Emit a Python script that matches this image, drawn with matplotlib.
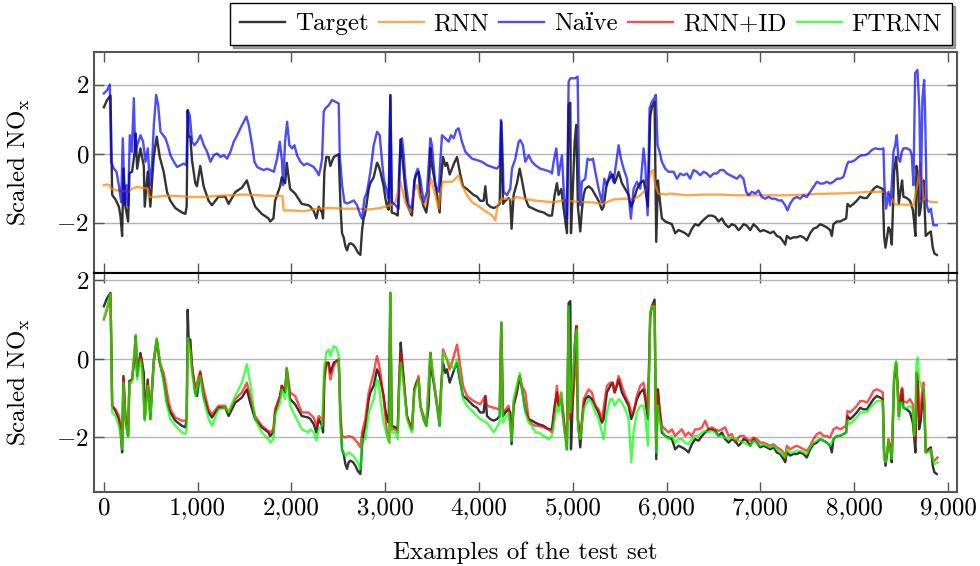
import matplotlib
matplotlib.use("Agg")
import matplotlib.pyplot as plt
from matplotlib.ticker import FuncFormatter, FixedLocator

plt.rcParams['font.family'] = ['cmr10', 'DejaVu Serif']
plt.rcParams['mathtext.fontset'] = 'cm'
plt.rcParams['axes.formatter.use_mathtext'] = True
plt.rcParams['font.size'] = 18

# ---- data ----
target_x = [0, 35, 71, 89, 124, 160, 177, 195, 209, 230, 259, 273, 301, 330, 340, 355, 390, 426, 436, 468,
            496, 532, 564, 596, 638, 674, 709, 762, 833, 869, 883, 894, 904, 922, 940, 975, 993, 1028, 1064,
            1117, 1152, 1223, 1294, 1330, 1401, 1472, 1525, 1560, 1613, 1684, 1755, 1773, 1808, 1826, 1879,
            1897, 1933, 1950, 1986, 2039, 2110, 2181, 2202, 2238, 2266, 2291, 2326, 2337, 2351, 2372, 2397,
            2415, 2451, 2479, 2504, 2522, 2539, 2557, 2575, 2593, 2610, 2628, 2657, 2682, 2706, 2735, 2753,
            2770, 2788, 2806, 2824, 2841, 2877, 2912, 2930, 2948, 2983, 3001, 3019, 3037, 3054, 3069, 3108,
            3133, 3147, 3165, 3179, 3197, 3214, 3232, 3268, 3285, 3310, 3332, 3356, 3374, 3410, 3438, 3463,
            3481, 3498, 3516, 3552, 3580, 3594, 3616, 3641, 3658, 3687, 3712, 3736, 3765, 3783, 3800, 3829,
            3871, 3907, 3942, 3978, 4013, 4049, 4067, 4085, 4120, 4156, 4191, 4220, 4237, 4255, 4280, 4315,
            4333, 4347, 4369, 4404, 4433, 4458, 4493, 4529, 4564, 4600, 4635, 4688, 4742, 4777, 4806, 4830,
            4848, 4877, 4891, 4912, 4937, 4955, 4973, 4980, 5001, 5019, 5036, 5054, 5079, 5097, 5115, 5132,
            5168, 5203, 5239, 5274, 5310, 5328, 5363, 5399, 5424, 5445, 5470, 5488, 5523, 5559, 5594, 5623,
            5647, 5683, 5718, 5754, 5772, 5800, 5825, 5843, 5871, 5889, 5907, 5921, 5949, 5985, 6020, 6056,
            6091, 6127, 6162, 6198, 6233, 6269, 6304, 6340, 6376, 6411, 6447, 6482, 6518, 6553, 6589, 6624,
            6660, 6695, 6731, 6766, 6784, 6820, 6855, 6891, 6926, 6962, 6997, 7033, 7068, 7104, 7139, 7175,
            7210, 7246, 7264, 7281, 7317, 7352, 7388, 7423, 7459, 7494, 7530, 7565, 7601, 7636, 7672, 7707,
            7743, 7761, 7778, 7814, 7850, 7885, 7914, 7928, 7956, 7992, 8027, 8063, 8098, 8134, 8169, 8205,
            8240, 8276, 8304, 8318, 8333, 8347, 8365, 8382, 8400, 8411, 8425, 8446, 8460, 8475, 8496, 8510,
            8524, 8560, 8595, 8624, 8638, 8652, 8663, 8677, 8691, 8706, 8723, 8738, 8748, 8762, 8791, 8816,
            8837, 8855, 8880]
target_y = [1.34, 1.55, 1.68, -1.20, -1.33, -1.54, -1.80, -2.39, -0.44, -1.54, -1.97, -0.57, -0.53, 0.07, 0.58,
            -0.44, 0.15, -0.36, -1.54, -0.53, -1.54, -0.10, 0.49, -0.10, -0.53, -1.12, -1.37, -1.58, -1.71,
            -1.75, -1.54, 1.25, 0.49, 0.49, -0.19, -0.86, -0.95, -0.36, -0.95, -1.37, -1.50, -1.25, -1.25,
            -1.46, -1.12, -0.99, -0.78, -1.12, -1.54, -1.75, -1.88, -1.97, -1.88, -1.37, -0.95, -0.69, -0.86,
            -0.27, -1.03, -1.16, -1.46, -1.50, -1.54, -1.67, -1.88, -1.54, -1.71, -1.88, -0.53, -0.10, -0.10,
            -0.36, -0.10, -0.06, -0.02, -1.46, -2.31, -2.43, -2.69, -2.81, -2.64, -2.60, -2.64, -2.73, -2.86,
            -2.94, -2.22, -1.88, -1.71, -1.37, -1.03, -0.86, -0.69, -0.27, -0.36, -0.53, -0.95, -1.29, -1.54,
            -1.63, 1.68, -1.71, -1.75, -1.80, -0.69, 0.41, -0.02, -0.53, -1.03, -1.46, -1.71, -1.80, -0.78,
            -0.61, -0.53, -1.20, -1.54, -1.71, -1.20, 0.15, -0.36, -0.61, -1.20, -1.71, -0.78, -0.10, -0.36,
            -0.27, -0.61, -0.44, -0.27, -0.10, -0.36, -0.61, -0.95, -1.03, -1.12, -1.20, -1.25, -1.37, -1.37,
            -0.95, -1.46, -1.54, -1.58, -1.54, -1.46, 0.92, -1.46, -1.37, -1.29, -1.37, -2.18, -1.20, -0.86,
            -0.44, -0.78, -1.30, -1.54, -1.58, -1.63, -1.67, -1.71, -1.80, -1.80, -1.20, -0.86, -1.20, -1.03,
            -1.37, -1.80, -2.31, 1.42, 1.47, -2.31, -0.95, 0.32, 0.83, -1.54, -2.26, -1.63, -1.20, -1.03,
            -0.95, -1.03, -1.20, -1.37, -1.63, -1.54, -0.86, -0.69, -0.61, -0.86, -0.69, -0.53, -0.86, -1.03,
            -1.20, -1.54, -1.37, -1.03, -0.86, -0.78, -1.03, -1.54, 1.08, 1.34, 1.51, -2.56, -0.78, -1.20,
            -1.88, -1.97, -2.01, -2.05, -2.31, -2.22, -2.26, -2.31, -2.39, -2.18, -2.05, -2.09, -1.97, -1.88,
            -1.80, -1.80, -1.84, -1.97, -1.88, -2.05, -2.14, -2.05, -2.09, -2.22, -2.18, -2.05, -2.09, -2.22,
            -2.05, -2.14, -2.26, -2.22, -2.26, -2.31, -2.26, -2.39, -2.43, -2.56, -2.64, -2.39, -2.47, -2.43,
            -2.43, -2.39, -2.43, -2.52, -2.31, -2.18, -2.14, -2.05, -2.09, -2.14, -2.22, -2.39, -2.05, -1.97,
            -1.97, -1.92, -1.88, -1.46, -1.54, -1.46, -1.37, -1.25, -1.29, -1.29, -1.16, -1.03, -0.95, -0.99,
            -1.03, -2.39, -2.73, -2.47, -2.14, -2.22, -2.64, -1.71, -0.53, -0.10, -0.61, -1.46, -1.03, -0.78,
            -1.25, -1.29, -1.37, -1.63, -1.97, -2.39, -0.36, -0.53, -1.80, -1.63, -1.20, -0.78, -1.37, -2.39,
            -2.31, -2.26, -2.73, -2.90, -2.94]

rnn_x = [0, 36, 64, 78, 142, 213, 266, 302, 355, 426, 469, 480, 533, 639, 781, 924, 1066, 1208, 1350, 1492,
         1634, 1776, 1904, 1918, 1989, 2131, 2273, 2415, 2557, 2700, 2842, 2948, 3055, 3108, 3161, 3214, 3268,
         3303, 3339, 3374, 3428, 3463, 3488, 3516, 3570, 3587, 3616, 3658, 3712, 3747, 3783, 3818, 3872, 3925,
         3978, 4031, 4085, 4138, 4173, 4198, 4244, 4298, 4351, 4404, 4475, 4582, 4688, 4795, 4902, 5008, 5115,
         5221, 5292, 5363, 5434, 5541, 5648, 5719, 5790, 5832, 5853, 5878, 5914, 6003, 6038, 6216, 6393, 6571,
         6748, 6926, 7104, 7281, 7459, 7636, 7814, 7992, 8169, 8311, 8382, 8436, 8525, 8631, 8684, 8702, 8720,
         8738, 8773, 8826, 8880]
rnn_y = [-0.92, -0.90, -0.92, -1.02, -1.07, -1.09, -1.11, -1.02, -0.97, -1.00, -1.02, -1.26, -1.26, -1.23,
         -1.23, -1.26, -1.26, -1.23, -1.21, -1.19, -1.21, -1.23, -1.23, -1.65, -1.65, -1.67, -1.60, -1.58,
         -1.60, -1.60, -1.62, -1.58, -1.50, -1.41, -0.82, -1.41, -1.70, -1.11, -0.92, -1.31, -1.50, -1.02,
         -0.73, -1.02, -1.60, -1.11, -0.82, -0.82, -0.82, -0.73, -0.63, -0.92, -1.21, -1.41, -1.50, -1.60,
         -1.70, -1.79, -1.94, -1.50, -1.31, -1.31, -1.33, -1.26, -1.31, -1.36, -1.39, -1.41, -1.36, -1.39,
         -1.41, -1.42, -1.45, -1.41, -1.33, -1.31, -1.33, -1.21, -1.02, -0.53, -0.48, -0.92, -1.16, -1.19,
         -1.16, -1.21, -1.19, -1.19, -1.21, -1.21, -1.21, -1.21, -1.19, -1.17, -1.16, -1.14, -1.11, -1.11,
         -1.21, -1.48, -1.48, -1.50, -0.73, -0.29, -0.73, -1.31, -1.36, -1.41, -1.41]

naive_x = [0, 36, 64, 78, 107, 135, 160, 185, 202, 224, 242, 259, 277, 298, 320, 334, 355, 391, 419, 444, 469,
           490, 515, 533, 558, 579, 604, 632, 657, 682, 710, 746, 781, 817, 852, 881, 895, 916, 941, 966, 995,
           1030, 1066, 1101, 1137, 1172, 1208, 1243, 1279, 1314, 1350, 1385, 1421, 1456, 1492, 1520, 1545, 1581,
           1606, 1634, 1669, 1705, 1741, 1776, 1812, 1847, 1876, 1900, 1911, 1932, 1954, 1978, 2007, 2032, 2060,
           2096, 2131, 2167, 2202, 2238, 2273, 2291, 2309, 2327, 2344, 2362, 2398, 2433, 2469, 2504, 2515, 2540,
           2565, 2593, 2628, 2664, 2700, 2735, 2753, 2778, 2806, 2842, 2877, 2913, 2941, 2966, 2984, 3019, 3037,
           3055, 3072, 3108, 3143, 3161, 3179, 3197, 3214, 3250, 3285, 3321, 3346, 3374, 3410, 3445, 3481, 3498,
           3534, 3570, 3587, 3605, 3641, 3676, 3701, 3729, 3758, 3783, 3818, 3854, 3889, 3925, 3978, 4031, 4085,
           4138, 4191, 4220, 4234, 4248, 4262, 4298, 4333, 4351, 4387, 4422, 4440, 4468, 4493, 4529, 4564, 4600,
           4653, 4706, 4760, 4777, 4795, 4823, 4848, 4884, 4902, 4919, 4937, 4955, 4973, 5026, 5051, 5065, 5079,
           5097, 5132, 5157, 5186, 5214, 5239, 5275, 5310, 5335, 5363, 5399, 5434, 5463, 5488, 5513, 5541, 5577,
           5619, 5648, 5683, 5719, 5754, 5772, 5797, 5818, 5843, 5868, 5885, 5903, 5925, 5949, 5985, 6020, 6074,
           6109, 6145, 6180, 6216, 6251, 6287, 6322, 6358, 6393, 6429, 6464, 6500, 6535, 6571, 6606, 6642, 6677,
           6713, 6748, 6784, 6819, 6848, 6873, 6908, 6944, 6979, 7015, 7050, 7086, 7121, 7157, 7192, 7228, 7263,
           7288, 7317, 7352, 7388, 7423, 7459, 7494, 7530, 7565, 7601, 7636, 7672, 7707, 7743, 7778, 7814, 7850,
           7885, 7921, 7938, 7974, 8009, 8045, 8080, 8116, 8151, 8187, 8222, 8258, 8294, 8311, 8322, 8340, 8365,
           8382, 8400, 8418, 8436, 8453, 8471, 8489, 8507, 8525, 8560, 8596, 8613, 8631, 8649, 8674, 8695, 8709,
           8727, 8745, 8755, 8773, 8794, 8816, 8844, 8880]
naive_y = [1.74, 1.84, 2.00, -0.24, -0.44, -0.53, -0.92, -1.41, 0.44, -1.50, -0.92, -1.50, 0.53, 0.05, 1.60,
           0.05, 0.24, 0.53, 0.34, -0.24, 0.15, -0.92, -0.24, 0.82, 1.70, 1.41, 0.63, 0.53, 0.44, 0.24, -0.05,
           -0.24, -0.39, -0.34, -0.29, -0.34, 1.26, 1.11, 0.34, 0.24, 0.34, 0.53, 0.24, 0.05, -0.24, -0.05, 0.00,
           -0.10, -0.05, -0.15, 0.05, 0.34, 0.53, 0.73, 0.92, 1.07, 0.82, 0.24, -0.24, -0.39, -0.44, -0.48,
           -0.44, -0.48, -0.53, -0.15, 0.34, -0.24, -0.92, 0.34, 0.92, 0.24, 0.15, 0.24, -0.05, -0.24, -0.34,
           -0.29, -0.34, -0.39, -0.53, -0.63, -0.44, -0.15, 1.21, 1.31, 1.40, 1.55, 1.50, 1.45, -0.05, -0.92,
           -1.41, -1.45, -1.41, -1.36, -1.50, -1.79, -1.89, -1.31, -1.11, -0.53, 0.24, 0.63, 0.53, -0.24, -0.73,
           -1.11, -1.31, 1.70, -1.41, -1.50, -1.60, 0.24, 0.44, -0.05, -0.73, -1.50, -1.60, -0.63, -0.44, -0.73,
           -1.41, -1.11, 0.44, 0.24, -0.92, -1.11, -0.24, 0.53, 0.44, 0.34, 0.53, 0.44, 0.68, 0.73, 0.34, 0.05,
           -0.05, -0.15, -0.19, -0.24, -0.34, -0.39, -0.44, -0.34, 0.97, 0.24, -1.11, -1.21, -1.02, -0.44, -0.15,
           0.34, 0.39, 0.24, -0.24, -0.05, -0.24, -0.34, -0.44, -0.48, -0.53, -0.58, -0.24, 0.15, -0.63, -0.05,
           -1.02, -1.50, -1.89, 2.08, 2.18, 2.18, 2.23, -0.53, -1.50, -0.82, -0.73, -0.15, -0.19, -0.15, -0.53,
           -1.02, -1.41, -0.73, -0.92, -0.53, -0.82, -0.24, 0.24, -0.15, -0.44, -0.73, -1.89, -1.02, -0.82,
           -1.02, 0.15, -0.34, -1.79, 1.31, 1.50, 1.60, 1.70, 0.24, 0.05, -0.24, -0.44, -0.53, -0.53, -0.73,
           -0.58, -0.63, -0.58, -0.73, -0.48, -0.53, -0.63, -0.53, -0.58, -0.68, -0.58, -0.58, -0.48, -0.48,
           -0.58, -0.63, -0.68, -0.73, -0.63, -0.73, -1.11, -1.21, -1.11, -1.16, -1.07, -1.26, -1.31, -1.26,
           -1.31, -1.31, -1.36, -1.36, -1.50, -1.65, -1.45, -1.31, -1.26, -1.31, -1.21, -1.26, -1.11, -0.97,
           -0.82, -0.87, -0.87, -0.82, -0.87, -0.82, -0.73, -0.73, -0.68, -0.34, -0.24, -0.24, -0.19, -0.10,
           -0.05, -0.05, 0.00, 0.10, 0.15, 0.13, 0.13, 0.15, -0.92, -1.60, -1.11, -1.50, -0.92, 0.05, 0.24, 0.53,
           -0.15, -0.24, 0.05, 0.15, 0.15, 0.10, -0.05, -0.92, 2.33, 2.42, 1.21, -1.31, 1.60, 2.13, 1.21, -1.50,
           -1.70, -1.60, -2.08, -2.08]

rnnid_x = [0, 35, 71, 89, 124, 160, 177, 195, 209, 230, 259, 273, 301, 340, 355, 390, 408, 436, 468, 496, 532,
           564, 596, 638, 674, 709, 762, 833, 869, 883, 894, 922, 940, 975, 1028, 1064, 1117, 1152, 1223, 1294,
           1330, 1401, 1472, 1525, 1560, 1613, 1684, 1755, 1773, 1808, 1826, 1879, 1897, 1933, 1950, 1986, 2039,
           2110, 2181, 2202, 2238, 2266, 2291, 2326, 2337, 2351, 2372, 2397, 2415, 2451, 2479, 2504, 2522, 2539,
           2575, 2610, 2657, 2706, 2735, 2753, 2788, 2824, 2877, 2912, 2930, 2948, 2983, 3019, 3044, 3054, 3069,
           3108, 3133, 3147, 3165, 3197, 3232, 3268, 3285, 3310, 3356, 3374, 3410, 3438, 3481, 3516, 3552, 3580,
           3616, 3658, 3687, 3712, 3765, 3800, 3829, 3871, 3942, 4013, 4067, 4085, 4156, 4220, 4237, 4255, 4315,
           4347, 4369, 4433, 4458, 4493, 4529, 4564, 4600, 4635, 4688, 4742, 4777, 4806, 4830, 4848, 4877, 4891,
           4912, 4937, 4955, 4973, 5001, 5026, 5044, 5054, 5079, 5115, 5168, 5203, 5239, 5274, 5310, 5363, 5399,
           5424, 5445, 5488, 5523, 5559, 5594, 5623, 5647, 5683, 5718, 5754, 5772, 5800, 5825, 5843, 5871, 5889,
           5907, 5921, 5949, 5985, 6020, 6056, 6091, 6127, 6162, 6198, 6233, 6269, 6304, 6340, 6376, 6411, 6447,
           6482, 6518, 6553, 6589, 6624, 6660, 6695, 6731, 6766, 6784, 6820, 6855, 6891, 6926, 6962, 6997, 7033,
           7068, 7104, 7139, 7175, 7210, 7246, 7264, 7281, 7317, 7352, 7388, 7423, 7459, 7494, 7530, 7565, 7601,
           7636, 7672, 7707, 7743, 7778, 7814, 7850, 7885, 7914, 7928, 7956, 7992, 8027, 8063, 8098, 8134, 8169,
           8205, 8240, 8276, 8304, 8318, 8333, 8347, 8365, 8382, 8400, 8411, 8425, 8446, 8460, 8475, 8496, 8510,
           8524, 8560, 8595, 8624, 8638, 8652, 8663, 8677, 8691, 8706, 8723, 8738, 8748, 8762, 8791, 8816, 8837,
           8855, 8887]
rnnid_y = [1.00, 1.25, 1.66, -1.20, -1.29, -1.46, -1.71, -2.22, -0.48, -1.46, -1.88, -0.57, -0.53, 0.58, -0.36,
           0.07, -0.10, -1.54, -0.61, -1.37, -0.02, 0.49, -0.10, -0.36, -0.86, -1.29, -1.50, -1.58, -1.58,
           -1.54, 0.49, 0.32, -0.19, -0.78, -0.31, -0.78, -1.29, -1.42, -1.20, -1.20, -1.37, -1.03, -0.86,
           -0.61, -0.95, -1.46, -1.71, -1.84, -1.88, -1.80, -1.29, -0.95, -0.69, -0.78, -0.23, -0.86, -0.95,
           -1.37, -1.37, -1.42, -1.50, -1.71, -1.46, -1.54, -1.71, -0.36, -0.10, -0.19, -0.53, -0.19, -0.06,
           -0.02, -1.37, -1.97, -2.01, -1.97, -2.01, -2.14, -2.26, -1.88, -1.54, -0.86, -0.36, 0.07, -0.10,
           -0.36, -1.03, -1.88, -2.14, 1.68, -1.80, -1.80, -1.88, -0.69, 0.15, -0.53, -1.46, -1.71, -1.80, -0.78,
           -0.44, -1.20, -1.46, -1.63, 0.15, -0.53, -1.12, -1.63, 0.24, -0.02, -0.27, -0.10, 0.36, -0.19, -0.69,
           -0.95, -1.08, -1.16, -0.95, -1.20, -1.25, -1.29, 0.92, -1.37, -1.20, -1.97, -1.12, -0.44, -0.69,
           -0.86, -1.54, -1.67, -1.71, -1.71, -1.75, -1.80, -1.88, -1.37, -0.69, -1.12, -0.86, -1.20, -1.71,
           -2.22, 1.08, -1.54, -1.03, -0.27, 0.83, -1.54, -2.05, -1.03, -0.78, -0.86, -1.20, -1.29, -1.54, -0.69,
           -0.61, -0.61, -0.86, -0.44, -0.69, -0.95, -1.12, -1.37, -1.37, -0.95, -0.69, -0.61, -0.86, -1.37,
           1.17, 1.34, 1.42, -2.22, -0.86, -1.20, -1.71, -1.80, -1.88, -1.80, -1.97, -1.88, -1.80, -1.97, -1.88,
           -1.97, -1.80, -1.80, -1.75, -1.58, -1.80, -1.75, -1.80, -1.84, -1.80, -1.75, -1.97, -1.92, -2.14,
           -2.01, -1.97, -1.97, -2.05, -2.09, -2.01, -2.05, -2.14, -2.14, -2.18, -2.22, -2.18, -2.26, -2.31,
           -2.39, -2.56, -2.22, -2.31, -2.26, -2.22, -2.26, -2.31, -2.35, -2.22, -2.05, -1.92, -1.88, -1.97,
           -1.97, -2.01, -1.80, -1.75, -1.80, -1.75, -1.71, -1.33, -1.37, -1.29, -1.20, -1.08, -1.08, -1.12,
           -0.99, -0.82, -0.78, -0.82, -0.86, -2.39, -2.64, -2.47, -2.05, -2.22, -2.47, -1.63, -0.53, -0.14,
           -0.61, -1.37, -0.86, -0.74, -1.08, -1.12, -1.03, -1.16, -1.88, -2.05, -0.36, -0.44, -1.54, -1.37,
           -0.86, -0.61, -1.20, -2.31, -2.35, -2.31, -2.56, -2.60, -2.52]

ftrnn_x = [0, 35, 71, 89, 124, 160, 177, 195, 209, 230, 259, 273, 301, 340, 355, 390, 408, 436, 468, 496, 532,
           564, 596, 638, 674, 709, 762, 833, 869, 883, 894, 922, 940, 975, 1028, 1064, 1117, 1152, 1223, 1294,
           1330, 1401, 1472, 1525, 1560, 1613, 1684, 1755, 1773, 1808, 1826, 1879, 1897, 1933, 1950, 1986, 2039,
           2110, 2181, 2202, 2238, 2266, 2291, 2326, 2351, 2372, 2397, 2415, 2451, 2479, 2504, 2522, 2539, 2575,
           2610, 2657, 2706, 2735, 2753, 2788, 2824, 2877, 2912, 2930, 2948, 2983, 3019, 3044, 3054, 3069, 3108,
           3133, 3147, 3165, 3197, 3232, 3268, 3285, 3310, 3356, 3374, 3410, 3438, 3481, 3516, 3552, 3580, 3616,
           3658, 3687, 3712, 3736, 3765, 3800, 3829, 3871, 3942, 4013, 4085, 4156, 4220, 4237, 4255, 4315, 4347,
           4369, 4433, 4458, 4493, 4529, 4564, 4600, 4635, 4688, 4742, 4777, 4806, 4830, 4848, 4877, 4891, 4912,
           4937, 4955, 4973, 5001, 5026, 5044, 5054, 5079, 5115, 5168, 5203, 5239, 5274, 5310, 5328, 5363, 5399,
           5424, 5445, 5488, 5523, 5559, 5594, 5623, 5647, 5683, 5718, 5754, 5772, 5800, 5825, 5843, 5871, 5889,
           5907, 5921, 5949, 5985, 6020, 6056, 6091, 6127, 6162, 6198, 6233, 6269, 6304, 6340, 6376, 6411, 6447,
           6482, 6518, 6553, 6589, 6624, 6660, 6695, 6731, 6766, 6784, 6820, 6855, 6891, 6926, 6962, 6997, 7033,
           7068, 7104, 7139, 7175, 7210, 7246, 7264, 7281, 7317, 7352, 7388, 7423, 7459, 7494, 7530, 7565, 7601,
           7636, 7672, 7707, 7743, 7778, 7814, 7850, 7885, 7914, 7928, 7956, 7992, 8027, 8063, 8098, 8134, 8169,
           8205, 8240, 8276, 8304, 8318, 8333, 8347, 8365, 8382, 8400, 8411, 8425, 8446, 8460, 8475, 8496, 8510,
           8524, 8560, 8595, 8624, 8638, 8652, 8663, 8677, 8691, 8706, 8723, 8738, 8748, 8762, 8791, 8816, 8837,
           8855, 8887]
ftrnn_y = [1.04, 1.34, 1.66, -1.37, -1.46, -1.71, -1.88, -2.31, -0.61, -1.63, -2.01, -0.61, -0.61, 0.62, -0.53,
           -0.02, -0.27, -1.58, -0.69, -1.54, -0.10, 0.53, -0.02, -0.61, -1.20, -1.54, -1.71, -1.88, -1.92,
           -1.80, 0.53, 0.15, -0.36, -0.95, -0.44, -1.03, -1.54, -1.71, -1.29, -1.25, -1.37, -0.95, -0.61,
           -0.14, -0.61, -1.54, -1.88, -2.05, -2.14, -2.05, -1.46, -1.12, -0.78, -1.03, -0.27, -1.20, -1.46,
           -1.80, -1.88, -1.80, -1.88, -2.09, -1.80, -1.71, -0.19, 0.15, 0.24, 0.07, 0.32, 0.28, 0.07, -1.71,
           -2.31, -2.47, -2.39, -2.47, -2.64, -2.81, -2.05, -2.05, -1.37, -1.03, -0.53, -0.61, -1.03, -1.63,
           -1.97, -2.14, 1.68, -1.88, -1.88, -2.05, -0.86, -0.10, -0.69, -1.54, -1.80, -1.88, -0.86, -0.53,
           -1.20, -1.54, -1.71, 0.15, -0.53, -1.20, -1.71, 0.15, -0.02, -0.10, -0.19, -0.27, -0.02, -0.53, -1.03,
           -1.20, -1.37, -1.54, -1.63, -1.88, -1.63, 0.92, -1.63, -1.37, -2.09, -1.03, -0.36, -0.78, -1.37,
           -1.63, -1.71, -1.88, -1.88, -1.97, -2.05, -1.97, -1.54, -1.20, -1.37, -0.86, -1.46, -1.88, -2.31,
           1.34, -1.37, -0.36, 0.49, 0.75, -1.80, -2.05, -1.29, -1.03, -1.12, -1.37, -1.54, -1.88, -2.05, -1.37,
           -1.03, -1.03, -1.20, -1.03, -1.12, -1.29, -1.54, -2.64, -1.88, -1.37, -1.20, -1.20, -1.46, -2.22,
           1.17, 1.34, 1.34, -2.39, -1.20, -1.54, -1.80, -1.97, -2.05, -1.97, -2.14, -2.05, -2.05, -2.14, -2.18,
           -2.05, -1.97, -1.97, -1.88, -1.84, -1.88, -1.84, -1.88, -1.97, -1.97, -2.01, -2.05, -2.01, -2.05,
           -2.09, -2.09, -2.14, -2.18, -2.22, -2.09, -2.14, -2.22, -2.18, -2.22, -2.26, -2.22, -2.31, -2.39,
           -2.47, -2.52, -2.31, -2.39, -2.39, -2.35, -2.35, -2.39, -2.43, -2.26, -2.14, -2.09, -2.05, -2.09,
           -2.14, -2.22, -2.05, -1.97, -1.97, -1.92, -1.88, -1.58, -1.67, -1.58, -1.50, -1.37, -1.37, -1.37,
           -1.25, -1.16, -1.08, -1.08, -1.08, -2.56, -2.64, -2.43, -2.14, -2.31, -2.56, -1.46, -0.36, -0.06,
           -0.69, -1.54, -1.12, -1.12, -1.25, -1.25, -1.20, -1.29, -1.97, -1.63, -0.10, 0.03, -0.53, -0.61,
           -0.78, -0.78, -1.03, -2.39, -2.39, -2.31, -2.56, -2.69, -2.64]

x_ticks = [0, 1000, 2000, 3000, 4000, 5000, 6000, 7000, 8000, 9000]
y_ticks = [-2, 0, 2]

# ---- figure ----
fig = plt.figure(figsize=(9.8, 5.66), dpi=100)
ax1 = fig.add_axes([0.0959, 0.5185, 0.8806, 0.3895])
ax2 = fig.add_axes([0.0959, 0.1307, 0.8806, 0.3878])

lw = 1.7
l_t, = ax1.plot(target_x, target_y, color='black', alpha=0.8, lw=lw, label='Target')
l_r, = ax1.plot(rnn_x, rnn_y, color=(1.0, 0.5, 0.0), alpha=0.7, lw=lw, label='RNN')
l_n, = ax1.plot(naive_x, naive_y, color='blue', alpha=0.7, lw=lw, label='Naïve')

ax2.plot(target_x, target_y, color='black', alpha=0.8, lw=lw)
l_i, = ax2.plot(rnnid_x, rnnid_y, color='red', alpha=0.7, lw=lw, label='RNN+ID')
l_f, = ax2.plot(ftrnn_x, ftrnn_y, color=(0.0, 1.0, 0.0), alpha=0.7, lw=lw, label='FTRNN')

ax1.set_ylim(-3.45, 2.94)
ax2.set_ylim(-3.40, 2.2)

for ax in (ax1, ax2):
    ax.set_xlim(-105, 9095)
    ax.xaxis.set_major_locator(FixedLocator(x_ticks))
    ax.yaxis.set_major_locator(FixedLocator(y_ticks))
    ax.xaxis.set_major_formatter(FuncFormatter(lambda v, p: f'{int(v):,}'))
    ax.grid(axis='y', color='#b4b4b4', lw=1.0)
    ax.set_axisbelow(True)
    ax.tick_params(direction='in', length=7, width=1, color='#555555',
                   top=True, right=True, labelsize=18)
    for s in ax.spines.values():
        s.set_color('#555555')
        s.set_linewidth(1.5)
    ax.set_ylabel('Scaled NO$_\\mathrm{x}$', fontsize=18)
    ax.yaxis.set_label_coords(-0.072, 0.5)

ax1.tick_params(labelbottom=False)
ax1.spines['bottom'].set_color('black')
ax2.spines['top'].set_color('black')
ax2.set_xlabel('Examples of the test set', fontsize=18, labelpad=16)

fig.legend(handles=[l_t, l_r, l_n, l_i, l_f], loc='upper right',
           bbox_to_anchor=(0.9714, 0.995), ncol=5, fontsize=18,
           frameon=True, fancybox=False, shadow=True, edgecolor='black',
           handlelength=1.8, handletextpad=0.4, columnspacing=0.4,
           borderpad=0.4, borderaxespad=0.0)

fig.savefig('out.png', dpi=100)
